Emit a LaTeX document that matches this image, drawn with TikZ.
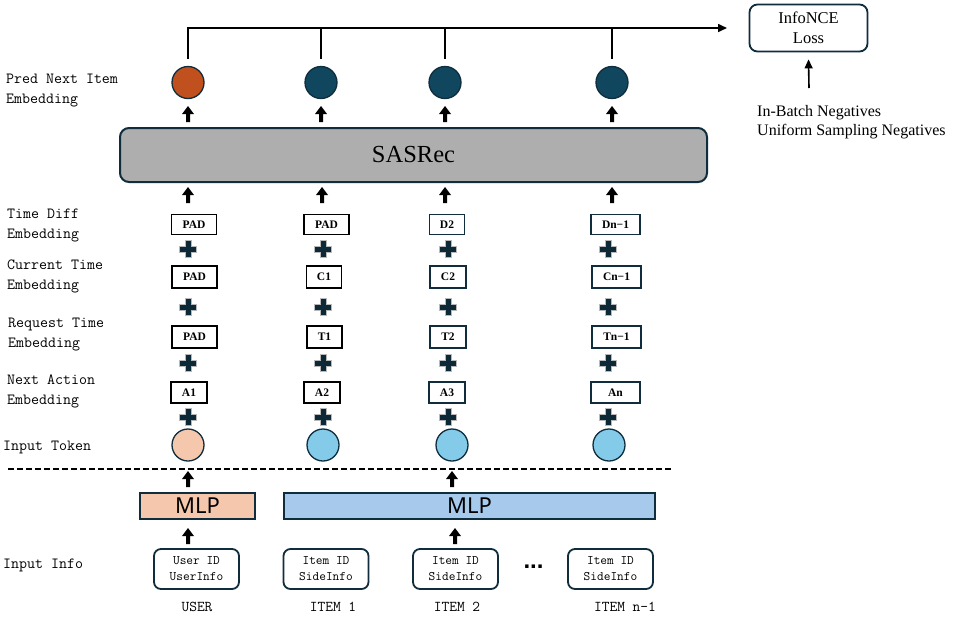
\documentclass[tikz,border=0pt]{standalone}
\usepackage{fontspec}
\setmainfont{Liberation Serif}
\newfontfamily\mlpfont{Noto Sans}
\newfontfamily\dotfont{Liberation Sans}
\usetikzlibrary{arrows.meta}
\definecolor{navy}{HTML}{0F2D3C}
\definecolor{predorange}{HTML}{C0501E}
\definecolor{predteal}{HTML}{10475F}
\definecolor{peach}{HTML}{F5C7AC}
\definecolor{lblue}{HTML}{84CBEA}
\definecolor{mlpblue}{HTML}{A6C9EC}
\definecolor{sasgray}{HTML}{AEAEAE}
\begin{document}
\begin{tikzpicture}[x=1pt,y=-1pt,
  lab/.style={anchor=west, font=\ttfamily\fontsize{15.5}{20}\selectfont, align=left, inner sep=0pt},
  emb/.style={draw=navy, line width=1.8pt, fill=white, minimum height=20pt, inner sep=0pt,
    font=\bfseries\fontsize{11.5}{12}\selectfont},
  embk/.style={emb, draw=black},
  predc/.style={circle, draw=navy, line width=1.3pt, minimum size=32pt, inner sep=0pt},
  tokc/.style={circle, draw=navy, line width=1.3pt, minimum size=32pt, inner sep=0pt},
  mlpbox/.style={draw=navy, line width=2pt, minimum height=26pt, inner sep=0pt,
    font=\mlpfont\fontsize{22}{24}\selectfont},
  infobox/.style={draw=navy, line width=1.8pt, rounded corners=7pt, fill=white, minimum width=85pt,
    minimum height=40pt, inner sep=0pt, align=center, font=\ttfamily\fontsize{13}{16}\selectfont},
  botlab/.style={font=\ttfamily\fontsize{15}{16}\selectfont, inner sep=0pt},
  conn/.style={line width=1.6pt},
  uparrow/.pic={\fill[black] (-2,0) -- (2,0) -- (2,-8) -- (6,-8) -- (0,-16) -- (-6,-8) -- (-2,-8) -- cycle;},
  plussign/.pic={\filldraw[fill=navy!90!black, draw=gray!55, line width=0.7pt]
    (-3,-8.5) -- (3,-8.5) -- (3,-3) -- (8.5,-3) -- (8.5,3) -- (3,3) -- (3,8.5) -- (-3,8.5) -- (-3,3) -- (-8.5,3) -- (-8.5,-3) -- (-3,-3) -- cycle;}
]
\useasboundingbox (0,0) rectangle (955,619);
\fill[white] (0,0) rectangle (955,619);

% left labels
\node[lab] (l1) at (6,90.5) {Pred Next Item\\Embedding};
\node[lab] (l2) at (7,225.5) {Time Diff\\Embedding};
\node[lab] (l3) at (7,276) {Current Time\\Embedding};
\node[lab] (l4) at (8,335) {Request Time\\Embedding};
\node[lab] (l5) at (7,391) {Next Action\\Embedding};
\node[lab] (l6) at (3,447) {Input Token};
\node[lab] (l7) at (3,565) {Input Info};

% predicted embeddings
\node[predc, fill=predorange] (p1) at (188,82.5) {};
\node[predc, fill=predteal] (p2) at (321,82.5) {};
\node[predc, fill=predteal] (p3) at (445,82.5) {};
\node[predc, fill=predteal] (p4) at (612,82.5) {};

% loss
\node[draw=navy, line width=1.8pt, rounded corners=8pt, minimum width=118pt, minimum height=47pt,
  inner sep=0pt, align=center, font=\fontsize{16.5}{20}\selectfont] (loss) at (808.5,28) {InfoNCE\\Loss};
\coordinate (lossin) at (727,28);
\coordinate (negsrc) at (809,88);
\node[anchor=west, align=left, inner sep=0pt, font=\fontsize{16}{19}\selectfont] (neg) at (757,122.5)
  {In-Batch Negatives\\Uniform Sampling Negatives};

\draw[conn, -{Triangle[width=8pt,length=9pt]}] ([yshift=7pt]p1.north) |- (lossin);
\draw[conn] ([yshift=7pt]p2.north) -- ++(0,-31.5);
\draw[conn] ([yshift=7pt]p3.north) -- ++(0,-31.5);
\draw[conn] ([yshift=7pt]p4.north) -- ++(0,-31.5);
\draw[conn, -{Triangle[width=8pt,length=9pt]}] (negsrc) -- ([yshift=-7pt]loss.south);

% arrows under pred circles
\pic at (188,122) {uparrow};
\pic at (321,122) {uparrow};
\pic at (445,122) {uparrow};
\pic at (612,122) {uparrow};

% SASRec
\node[draw=navy, line width=2pt, fill=sasgray, rounded corners=9pt, minimum width=587pt, minimum height=54pt,
  inner sep=0pt, font=\fontsize{24.5}{26}\selectfont] (sas) at (413.5,155) {SASRec};

% arrows under SASRec
\pic at (188,203) {uparrow};
\pic at (322,203) {uparrow};
\pic at (445,203) {uparrow};
\pic at (612,203) {uparrow};

% embedding rows
\node[embk, minimum width=45pt] (d1) at (194,224.5) {PAD};
\node[embk, minimum width=45pt] (d2) at (326.5,224.5) {PAD};
\node[emb, minimum width=35pt] (d3) at (447,224.5) {D2};
\node[emb, minimum width=49pt] (d4) at (615.5,224.5) {Dn−1};

\node[embk, minimum width=45pt, minimum height=22pt] (c1) at (194.5,277) {PAD};
\node[embk, minimum width=35pt, minimum height=22pt] (c2) at (324,277) {C1};
\node[emb, minimum width=36pt, minimum height=22pt] (c3) at (448,277) {C2};
\node[emb, minimum width=49pt, minimum height=22pt] (c4) at (616.5,277) {Cn−1};

\node[embk, minimum width=45pt, minimum height=22pt] (t1) at (194.5,337) {PAD};
\node[embk, minimum width=35pt, minimum height=22pt] (t2) at (324.5,337) {T1};
\node[emb, minimum width=36pt, minimum height=22pt] (t3) at (448,337) {T2};
\node[emb, minimum width=49pt, minimum height=22pt] (t4) at (616.5,337) {Tn−1};

\node[embk, minimum width=36pt, minimum height=21pt] (a1) at (189,392.5) {A1};
\node[embk, minimum width=36pt, minimum height=21pt] (a2) at (322,392.5) {A2};
\node[emb, minimum width=36pt, minimum height=21pt] (a3) at (447,392.5) {A3};
\node[emb, minimum width=49pt, minimum height=21pt] (a4) at (615.5,392.5) {An};

% plus signs
\foreach \yy in {249,307,363,417}{
  \pic at (188,\yy) {plussign};
  \pic at (323,\yy) {plussign};
  \pic at (448,\yy) {plussign};
  \pic at (608,\yy) {plussign};
}

% input tokens
\node[tokc, fill=peach] (k1) at (188,445) {};
\node[tokc, fill=lblue] (k2) at (323,445) {};
\node[tokc, fill=lblue] (k3) at (452,445) {};
\node[tokc, fill=lblue] (k4) at (609,445) {};

% dashed separator
\draw[line width=1.4pt, dash pattern=on 6pt off 3pt] (8,469) -- (672,469);

% arrows around MLP
\pic at (188,487) {uparrow};
\pic at (452,487) {uparrow};
\pic at (188,544) {uparrow};
\pic at (455,544) {uparrow};

% MLP boxes
\node[mlpbox, fill=peach, minimum width=115pt] (mu) at (197.5,506) {MLP};
\node[mlpbox, fill=mlpblue, minimum width=371pt] (mi) at (469.5,506) {MLP};

% input info boxes
\node[infobox] (i1) at (196.5,569) {User ID\\UserInfo};
\node[infobox] (i2) at (326,569) {Item ID\\SideInfo};
\node[infobox] (i3) at (455.5,569) {Item ID\\SideInfo};
\node[infobox] (i4) at (610.5,569) {Item ID\\SideInfo};
\node[inner sep=0pt, font=\dotfont\bfseries\fontsize{24}{24}\selectfont] (dots) at (533.5,567) {...};

% bottom labels
\node[botlab] (b1) at (197,607) {USER};
\node[botlab] (b2) at (333,607) {ITEM 1};
\node[botlab] (b3) at (457,607) {ITEM 2};
\node[botlab] (b4) at (625,607) {ITEM n-1};
\end{tikzpicture}
\end{document}
